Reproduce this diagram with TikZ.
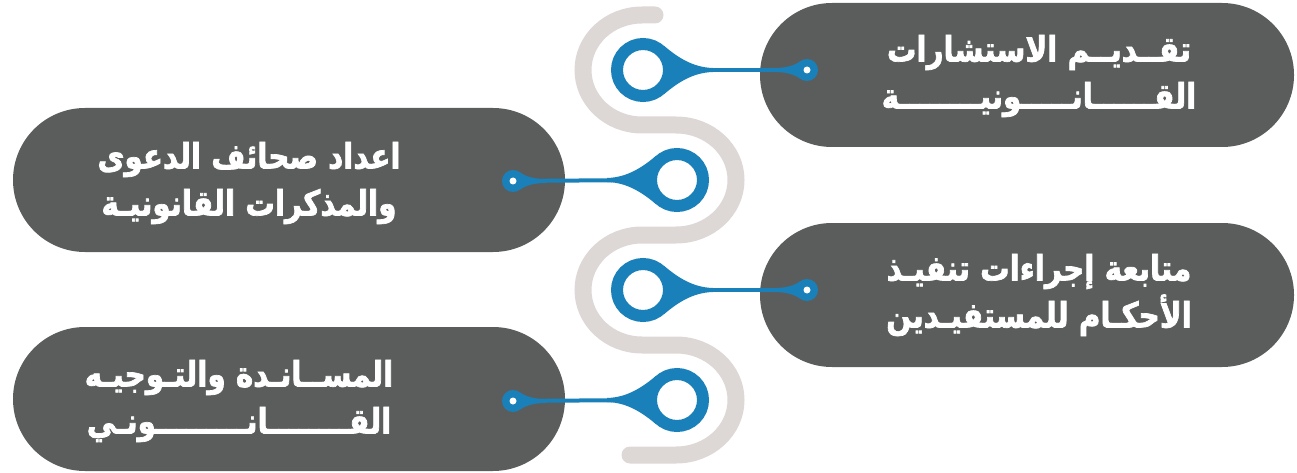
\documentclass[tikz,border=0pt]{standalone}
\usepackage{fontspec}
\newfontfamily\arabicfont[Script=Arabic, FakeStretch=0.84, BoldFeatures={FakeBold=2}]{DejaVu Sans}
\TeXXeTstate=1
\definecolor{pillgray}{HTML}{5B5D5D}
\definecolor{tealblue}{HTML}{1A80BA}
\definecolor{wavegray}{HTML}{DDD7D6}
\tikzset{
  pill/.style={fill=pillgray, rounded corners=72pt, minimum height=144pt, inner sep=0pt},
  labeltext/.style={text=white, font=\arabicfont\bfseries\fontsize{35}{47}\selectfont, align=center, inner sep=0pt},
  ring/.style={circle, draw=tealblue, line width=12pt, minimum size=52pt, inner sep=0pt},
  dotnode/.style={circle, fill=tealblue, minimum size=22pt, inner sep=0pt},
  link/.style={draw=tealblue, line width=4pt},
  wave/.style={draw=wavegray, line width=17pt, line cap=round},
}
\newcommand{\bigtail}[2]{%
  \begin{scope}[shift={(#1.center)}, xscale=#2]
    \fill[tealblue] (50:32) .. controls (32,15) and (48,2.5) .. (70,2) -- (70,-2) .. controls (48,-2.5) and (32,-15) .. (-50:32) -- cycle;
  \end{scope}}
\newcommand{\smalltail}[2]{%
  \begin{scope}[shift={(#1.center)}, xscale=#2]
    \fill[tealblue] (55:11) .. controls (10.5,6) and (18,2) .. (32,2) -- (32,-2) .. controls (18,-2) and (10.5,-6) .. (-55:11) -- cycle;
  \end{scope}}
\begin{document}
\begin{tikzpicture}[x=1pt, y=-1pt]
\useasboundingbox (0,0) rectangle (1297,473);
% pills
\node[pill, minimum width=534pt] (p1) at (1027,75) {};
\node[pill, minimum width=552pt] (p2) at (289,180) {};
\node[pill, minimum width=534pt] (p3) at (1027,295) {};
\node[pill, minimum width=552pt] (p4) at (289,399) {};
% texts
\node[labeltext] (t1) at (1039,76) {\beginR تقــديــم الاستشارات\endR\\\beginR القــــــانـــــونيــــــــة\endR};
\node[labeltext] (t2) at (249,183) {\beginR اعداد صحائف الدعوى\endR\\\beginR والمذكرات القانونيـة\endR};
\node[labeltext] (t3) at (1039,295) {\beginR متابعة إجراءات تنفيـذ\endR\\\beginR الأحكـام للمستفيـدين\endR};
\node[labeltext] (t4) at (239,401) {\beginR المســانـدة والتـوجيـه\endR\\\beginR القــــــــانـــــــــونـي\endR};
% wave
\draw[wave] (655,15) -- (642,15)
  arc[start angle=-90, end angle=-270, x radius=59, y radius=55] -- (676,125)
  arc[start angle=-90, end angle=90, x radius=60, y radius=55] -- (642,235)
  arc[start angle=-90, end angle=-270, x radius=59, y radius=55] -- (676,345)
  arc[start angle=-90, end angle=90, x radius=60, y radius=55] -- (630,455);
% rings and dots
\node[ring] (r1) at (643,70) {};
\node[ring] (r2) at (677,180) {};
\node[ring] (r3) at (643,290) {};
\node[ring] (r4) at (677,400) {};
\node[dotnode] (d1) at (807,70) {};
\node[dotnode] (d2) at (513,181) {};
\node[dotnode] (d3) at (807,290) {};
\node[dotnode] (d4) at (513,401) {};
% tails
\bigtail{r1}{1}
\bigtail{r2}{-1}
\bigtail{r3}{1}
\bigtail{r4}{-1}
\smalltail{d1}{-1}
\smalltail{d2}{1}
\smalltail{d3}{-1}
\smalltail{d4}{1}
% links
\path[link] (r1.east) -- (d1.center);
\path[link] (r2.west) -- (d2.center);
\path[link] (r3.east) -- (d3.center);
\path[link] (r4.west) -- (d4.center);
\foreach \d in {d1,d2,d3,d4} \fill[white] (\d) circle (3.5);
\end{tikzpicture}
\end{document}
